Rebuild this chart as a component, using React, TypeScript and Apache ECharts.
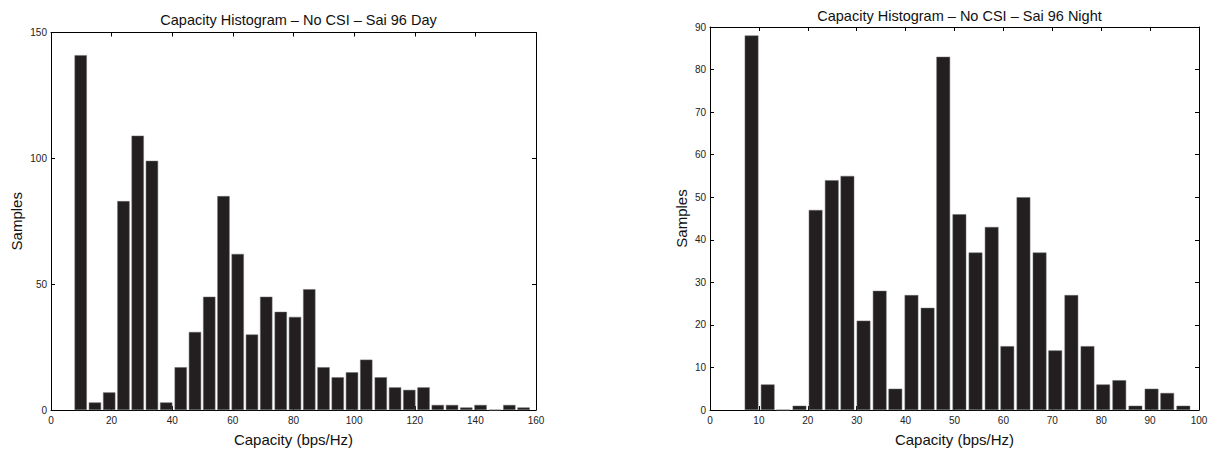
import React, { useEffect, useRef } from "react";
import * as echarts from "echarts";

const dayCenters = [9.8, 14.5, 19.2, 23.9, 28.6, 33.3, 38.0, 42.8, 47.5, 52.2, 56.9, 61.6, 66.3, 71.0, 75.8, 80.5, 85.2, 89.9, 94.6, 99.3, 104.0, 108.8, 113.5, 118.2, 122.9, 127.6, 132.3, 137.0, 141.7, 146.5, 151.2, 155.9];
const daySamples = [141, 3, 7, 83, 109, 99, 3, 17, 31, 45, 85, 62, 30, 45, 39, 37, 48, 17, 13, 15, 20, 13, 9, 8, 9, 2, 2, 1, 2, 0, 2, 1];

const nightCenters = [8.5, 11.8, 15.0, 18.3, 21.6, 24.9, 28.1, 31.4, 34.7, 37.9, 41.2, 44.5, 47.7, 51.0, 54.3, 57.6, 60.8, 64.1, 67.4, 70.6, 73.9, 77.2, 80.4, 83.7, 87.0, 90.3, 93.5, 96.8];
const nightSamples = [88, 6, 0, 1, 47, 54, 55, 21, 28, 5, 27, 24, 83, 46, 37, 43, 15, 50, 37, 14, 27, 15, 6, 7, 1, 5, 4, 1];

const titles = ["Capacity Histogram \u2013 No CSI \u2013 Sai 96 Day", "Capacity Histogram \u2013 No CSI \u2013 Sai 96 Night"];
const xName = "Capacity (bps/Hz)";
const yName = "Samples";

const FONT = "'Liberation Sans', Arial, Helvetica, sans-serif";
const BAR = "#231f20";

function mainX(gridIndex: number, max: number, interval: number) {
  return {
    type: "value",
    gridIndex,
    min: 0,
    max,
    interval,
    position: "bottom",
    name: xName,
    nameLocation: "middle",
    nameGap: 22,
    nameTextStyle: { fontFamily: FONT, fontSize: 15, color: "#111" },
    axisLine: { show: true, onZero: false, lineStyle: { color: "#000", width: 1 } },
    axisTick: { show: true, inside: true, length: 4, lineStyle: { color: "#000" } },
    axisLabel: { fontFamily: FONT, fontSize: 10, color: "#222", margin: 5 },
    splitLine: { show: false },
  };
}
function topX(gridIndex: number, max: number, interval: number) {
  return {
    type: "value",
    gridIndex,
    min: 0,
    max,
    interval,
    position: "top",
    axisLine: { show: true, onZero: false, lineStyle: { color: "#000", width: 1 } },
    axisTick: { show: true, inside: true, length: 4, lineStyle: { color: "#000" } },
    axisLabel: { show: false },
    splitLine: { show: false },
  };
}
function mainY(gridIndex: number, max: number, interval: number, gap: number) {
  return {
    type: "value",
    gridIndex,
    min: 0,
    max,
    interval,
    position: "left",
    name: yName,
    nameLocation: "middle",
    nameGap: gap,
    nameTextStyle: { fontFamily: FONT, fontSize: 15, color: "#111" },
    axisLine: { show: true, onZero: false, lineStyle: { color: "#000", width: 1 } },
    axisTick: { show: true, inside: true, length: 4, lineStyle: { color: "#000" } },
    axisLabel: { fontFamily: FONT, fontSize: 10, color: "#222", margin: 4 },
    splitLine: { show: false },
  };
}
function rightY(gridIndex: number, max: number, interval: number) {
  return {
    type: "value",
    gridIndex,
    min: 0,
    max,
    interval,
    position: "right",
    axisLine: { show: true, onZero: false, lineStyle: { color: "#000", width: 1 } },
    axisTick: { show: true, inside: true, length: 4, lineStyle: { color: "#000" } },
    axisLabel: { show: false },
    splitLine: { show: false },
  };
}

export default function App() {
  const ref = useRef<HTMLDivElement>(null);
  useEffect(() => {
    if (!ref.current) return;
    const chart = echarts.init(ref.current, null, { renderer: "svg" });
    const option = {
      animation: false,
      backgroundColor: "#fff",
      title: [
        { text: titles[0], left: 293.5, top: 7, textAlign: "center", textStyle: { fontFamily: FONT, fontSize: 14.5, fontWeight: "normal", color: "#111" } },
        { text: titles[1], left: 954.5, top: 3, textAlign: "center", textStyle: { fontFamily: FONT, fontSize: 14.5, fontWeight: "normal", color: "#111" } },
      ],
      grid: [
        { left: 51, top: 32.5, width: 485, height: 381, containLabel: false },
        { left: 710, top: 27, width: 489, height: 386.5, containLabel: false },
      ],
      xAxis: [mainX(0, 160, 20), topX(0, 160, 20), mainX(1, 100, 10), topX(1, 100, 10)],
      yAxis: [mainY(0, 150, 50, 27), rightY(0, 150, 50), mainY(1, 90, 10, 21), rightY(1, 90, 10)],
      series: [
        {
          type: "bar",
          xAxisIndex: 0,
          yAxisIndex: 0,
          barWidth: 12.3,
          data: dayCenters.map((c, i) => [c, daySamples[i]]),
          itemStyle: { color: BAR, borderColor: "#6a6a6a", borderWidth: 0.5 },
        },
        {
          type: "bar",
          xAxisIndex: 2,
          yAxisIndex: 2,
          barWidth: 13.7,
          data: nightCenters.map((c, i) => [c, nightSamples[i]]),
          itemStyle: { color: BAR, borderColor: "#6a6a6a", borderWidth: 0.5 },
        },
      ],
    };
    chart.setOption(option as any);
    return () => chart.dispose();
  }, []);
  return <div ref={ref} style={{ position: "fixed", left: 0, top: 0, width: 1219, height: 452, background: "#fff" }} />;
}
